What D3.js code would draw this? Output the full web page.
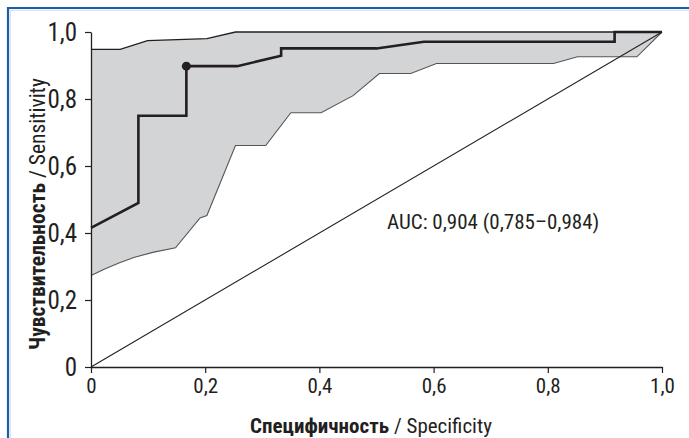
<!DOCTYPE html>
<html>
  <head>
    <meta charset="utf-8">
    <title>ROC</title>
    <script src="https://d3js.org/d3.v7.min.js"></script>
    <style>
      body { margin:0; background:#fff; }
      text { font-family:"Liberation Sans Narrow","Roboto Condensed","Liberation Sans",Arial,sans-serif; fill:#231f20; }
    </style>
  </head>
  <body>
    <svg width="689" height="438"></svg>
    <script>
    // ROC curve (1 - specificity axis shown as "Specificity")
    var rocX = [0, 0.083, 0.083, 0.167, 0.167, 0.256, 0.333, 0.333, 0.5, 0.583, 0.917, 0.917, 1];
    var rocY = [0.415, 0.49, 0.75, 0.75, 0.898, 0.898, 0.929, 0.951, 0.951, 0.971, 0.971, 1, 1];
    // confidence band
    var upX = [0, 0.051, 0.099, 0.203, 0.253, 1];
    var upY = [0.948, 0.948, 0.974, 0.98, 1, 1];
    var loX = [0, 0.025, 0.05, 0.075, 0.11, 0.148, 0.191, 0.203, 0.253, 0.306, 0.35, 0.403, 0.459, 0.505, 0.56, 0.605, 0.81, 0.852, 0.956, 1];
    var loY = [0.273, 0.293, 0.311, 0.327, 0.343, 0.356, 0.445, 0.452, 0.661, 0.661, 0.759, 0.759, 0.81, 0.876, 0.876, 0.906, 0.906, 0.926, 0.926, 1];
    var cutX = [0.167], cutY = [0.898];
    var ticks = [0, 0.2, 0.4, 0.6, 0.8, 1];
    var tickLabels = ["0", "0,2", "0,4", "0,6", "0,8", "1,0"];
    var aucText = "AUC: 0,904 (0,785–0,984)";

    var svg = d3.select("svg");
    // frame
    svg.append("path").attr("d","M8,438V8H689").attr("fill","none")
      .attr("stroke","#1d5ea8").attr("stroke-width",2.2);
    svg.append("path").attr("d","M10.2,438V10.2H689").attr("fill","none")
      .attr("stroke","#c4dbf1").attr("stroke-width",1);

    var x = d3.scaleLinear().domain([0,1]).range([91,662]);
    var y = d3.scaleLinear().domain([0,1]).range([367,32]);

    var line = d3.line().x(function(d){ return x(d[0]); }).y(function(d){ return y(d[1]); });
    var upPts = d3.zip(upX, upY), loPts = d3.zip(loX, loY);
    // band polygon: upper edge then lower edge back
    svg.append("path")
      .attr("d", line(upPts.concat(loPts.slice().reverse())) + "Z")
      .attr("fill","#d3d4d6").attr("stroke","none");
    svg.append("path").attr("d", line(loPts)).attr("fill","none")
      .attr("stroke","#555").attr("stroke-width",1.1);
    svg.append("path").attr("d", line(upPts)).attr("fill","none")
      .attr("stroke","#231f20").attr("stroke-width",1.3);

    // diagonal
    svg.append("line").attr("x1",x(0)).attr("y1",y(0)).attr("x2",x(1)).attr("y2",y(1))
      .attr("stroke","#231f20").attr("stroke-width",1.1);

    // roc
    svg.append("path").attr("d", line(d3.zip(rocX, rocY))).attr("fill","none")
      .attr("stroke","#231f20").attr("stroke-width",2.6);
    svg.selectAll(".cut").data(d3.zip(cutX, cutY)).enter().append("circle")
      .attr("cx",function(d){ return x(d[0]); }).attr("cy",function(d){ return y(d[1]); })
      .attr("r",4.5).attr("fill","#231f20");

    // axes
    var fmt = function(d,i){ return tickLabels[i]; };
    var gx = svg.append("g").attr("transform","translate(0,"+y(0)+")")
      .call(d3.axisBottom(x).tickValues(ticks).tickFormat(fmt).tickSize(6).tickSizeOuter(0).tickPadding(5));
    var gy = svg.append("g").attr("transform","translate("+x(0)+",0)")
      .call(d3.axisLeft(y).tickValues(ticks).tickFormat(fmt).tickSize(6).tickSizeOuter(0).tickPadding(8));
    svg.selectAll(".domain").attr("stroke","#231f20").attr("stroke-width",1.3);
    svg.selectAll(".tick line").attr("stroke","#231f20").attr("stroke-width",1.2);
    gx.attr("font-size",21).attr("font-family",null);
    gy.attr("font-size",25).attr("font-family",null);
    svg.selectAll(".tick text").attr("fill","#231f20");

    // titles
    var xt = svg.append("text").attr("x",371).attr("y",433).attr("text-anchor","middle").attr("font-size",21);
    xt.append("tspan").attr("font-weight","bold").text("Специфичность");
    xt.append("tspan").text(" / Specificity");
    var yt = svg.append("text").attr("transform","translate(45,214) rotate(-90)").attr("text-anchor","middle").attr("font-size",21.5);
    yt.append("tspan").attr("font-weight","bold").text("Чувствительность");
    yt.append("tspan").text(" / Sensitivity");

    svg.append("text").attr("x",387).attr("y",229).attr("font-size",21).text(aucText);
    </script>
  </body>
</html>
